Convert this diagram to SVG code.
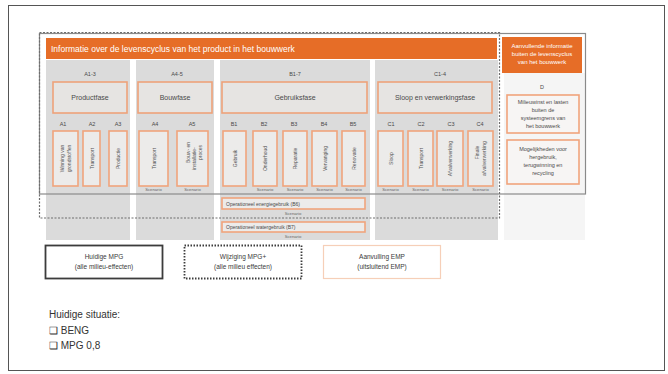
<svg xmlns="http://www.w3.org/2000/svg" width="668" height="374" viewBox="0 0 668 374">
  <defs>
    <style>
      text { font-family: "Liberation Sans", Arial, sans-serif; fill: #4a4a4a; }
      .col { fill: #dbdbdb; }
      .hdr { fill: #e66d27; }
      .hdrtxt { fill: #ffffff; font-size: 8.5px; }
      .hdrsm { fill: #ffffff; font-size: 6px; text-anchor: middle; }
      .phase { fill: #e6e4e2; stroke: #eea27a; stroke-width: 1.6; }
      .phasetxt { font-size: 7px; text-anchor: middle; }
      .code { font-size: 5.5px; text-anchor: middle; }
      .mod { fill: #ecebea; stroke: #f0a47c; stroke-width: 1.6; }
      .vtxt { font-size: 5px; text-anchor: middle; dominant-baseline: central; fill: #555555; }
      .scen { font-size: 4.2px; text-anchor: middle; fill: #666666; }
      .dbox { fill: #f7f5f4; stroke: #f0a47c; stroke-width: 1.6; }
      .dtxt { font-size: 5.5px; text-anchor: middle; }
      .legtxt { font-size: 6.5px; text-anchor: middle; fill: #3a3a3a; }
      .bottom { font-size: 10px; fill: #333333; }
    </style>
  </defs>

  <rect x="0" y="0" width="668" height="374" fill="#ffffff"/>
  <!-- page frame -->
  <rect x="8.5" y="5.5" width="656" height="365" fill="none" stroke="#555555" stroke-width="1"/>

  <!-- phase column backgrounds -->
  <g id="columns">
    <rect class="col" x="46" y="60" width="84" height="180"/>
    <rect class="col" x="136" y="60" width="78" height="180"/>
    <rect class="col" x="220" y="60" width="150" height="180"/>
    <rect class="col" x="375" y="60" width="123" height="180"/>
    <rect x="504" y="73" width="81" height="167" fill="#f5f5f5"/>
  </g>

  <!-- lifecycle header -->
  <g id="header-lifecycle">
    <rect class="hdr" x="46" y="38" width="451" height="21"/>
    <text class="hdrtxt" x="51" y="51.5">Informatie over de levenscyclus van het product in het bouwwerk</text>
  </g>
  <g id="header-extra">
    <rect class="hdr" x="502" y="37" width="80" height="36"/>
    <text class="hdrsm" x="542" y="48">Aanvullende informatie</text>
    <text class="hdrsm" x="542" y="56">buiten de levenscyclus</text>
    <text class="hdrsm" x="542" y="64">van het bouwwerk</text>
  </g>

  <!-- phase groups -->
  <g id="phase-a13">
    <text class="code" x="90" y="76">A1-3</text>
    <rect class="phase" x="53" y="82" width="74" height="31"/>
    <text class="phasetxt" x="90" y="100">Productfase</text>
  </g>
  <g id="phase-a45">
    <text class="code" x="177" y="76">A4-5</text>
    <rect class="phase" x="138" y="82" width="74" height="31"/>
    <text class="phasetxt" x="175" y="100">Bouwfase</text>
  </g>
  <g id="phase-b17">
    <text class="code" x="295" y="76">B1-7</text>
    <rect class="phase" x="222" y="82" width="145" height="31"/>
    <text class="phasetxt" x="295" y="100">Gebruiksfase</text>
  </g>
  <g id="phase-c14">
    <text class="code" x="440" y="76">C1-4</text>
    <rect class="phase" x="378" y="82" width="114" height="31"/>
    <text class="phasetxt" x="435" y="100">Sloop en verwerkingsfase</text>
  </g>

  <!-- modules -->
  <g id="mod-a1">
    <text class="code" x="63" y="126">A1</text>
    <rect class="mod" x="53" y="131" width="25" height="55"/>
    <g transform="translate(65.5,158.5) rotate(-90)">
      <text class="vtxt" x="0" y="-3.5">Winning van</text>
      <text class="vtxt" x="0" y="3.5">grondstoffen</text>
    </g>
  </g>
  <g id="mod-a2">
    <text class="code" x="92" y="126">A2</text>
    <rect class="mod" x="83" y="131" width="17" height="55"/>
    <text class="vtxt" transform="translate(91.5,158.5) rotate(-90)">Transport</text>
  </g>
  <g id="mod-a3">
    <text class="code" x="118" y="126">A3</text>
    <rect class="mod" x="109" y="131" width="18" height="55"/>
    <text class="vtxt" transform="translate(118,158.5) rotate(-90)">Productie</text>
  </g>
  <g id="mod-a4">
    <text class="code" x="155" y="126">A4</text>
    <rect class="mod" x="139" y="131" width="29" height="55"/>
    <text class="vtxt" transform="translate(153.5,158.5) rotate(-90)">Transport</text>
    <text class="scen" x="153.5" y="191">Scenario</text>
  </g>
  <g id="mod-a5">
    <text class="code" x="192" y="126">A5</text>
    <rect class="mod" x="177" y="131" width="31" height="55"/>
    <g transform="translate(192.5,158.5) rotate(-90)">
      <text class="vtxt" x="6" y="-5">Bouw- en</text>
      <text class="vtxt" x="0" y="1">installatie-</text>
      <text class="vtxt" x="6" y="7">proces</text>
    </g>
    <text class="scen" x="192.5" y="191">Scenario</text>
  </g>
  <g id="mod-b1">
    <text class="code" x="234" y="126">B1</text>
    <rect class="mod" x="223" y="131" width="23" height="55"/>
    <text class="vtxt" transform="translate(234.5,158.5) rotate(-90)">Gebruik</text>
  </g>
  <g id="mod-b2">
    <text class="code" x="264" y="126">B2</text>
    <rect class="mod" x="253" y="131" width="24" height="55"/>
    <text class="vtxt" transform="translate(265,158.5) rotate(-90)">Onderhoud</text>
    <text class="scen" x="265" y="191">Scenario</text>
  </g>
  <g id="mod-b3">
    <text class="code" x="294" y="126">B3</text>
    <rect class="mod" x="283" y="131" width="24" height="55"/>
    <text class="vtxt" transform="translate(295,158.5) rotate(-90)">Reparatie</text>
    <text class="scen" x="295" y="191">Scenario</text>
  </g>
  <g id="mod-b4">
    <text class="code" x="324" y="126">B4</text>
    <rect class="mod" x="312" y="131" width="25" height="55"/>
    <text class="vtxt" transform="translate(324.5,158.5) rotate(-90)">Vervanging</text>
    <text class="scen" x="324.5" y="191">Scenario</text>
  </g>
  <g id="mod-b5">
    <text class="code" x="353" y="126">B5</text>
    <rect class="mod" x="342" y="131" width="23" height="55"/>
    <text class="vtxt" transform="translate(353.5,158.5) rotate(-90)">Renovatie</text>
    <text class="scen" x="353.5" y="191">Scenario</text>
  </g>
  <g id="mod-c1">
    <text class="code" x="391" y="126">C1</text>
    <rect class="mod" x="378" y="131" width="25" height="55"/>
    <text class="vtxt" transform="translate(390.5,158.5) rotate(-90)">Sloop</text>
    <text class="scen" x="390.5" y="191">Scenario</text>
  </g>
  <g id="mod-c2">
    <text class="code" x="421" y="126">C2</text>
    <rect class="mod" x="408" y="131" width="25" height="55"/>
    <text class="vtxt" transform="translate(420.5,158.5) rotate(-90)">Transport</text>
    <text class="scen" x="420.5" y="191">Scenario</text>
  </g>
  <g id="mod-c3">
    <text class="code" x="451" y="126">C3</text>
    <rect class="mod" x="437" y="131" width="26" height="55"/>
    <text class="vtxt" transform="translate(450,158.5) rotate(-90)">Afvalverwerking</text>
    <text class="scen" x="450" y="191">Scenario</text>
  </g>
  <g id="mod-c4">
    <text class="code" x="480" y="126">C4</text>
    <rect class="mod" x="468" y="131" width="25" height="55"/>
    <g transform="translate(480.5,158.5) rotate(-90)">
      <text class="vtxt" x="6" y="-3.5">Finale</text>
      <text class="vtxt" x="0" y="3.5">afvalverwerking</text>
    </g>
    <text class="scen" x="480.5" y="191">Scenario</text>
  </g>

  <!-- operational use rows -->
  <g id="mod-b6">
    <rect class="mod" x="222" y="198" width="143" height="11"/>
    <text x="226" y="205.5" font-size="5px">Operationeel energiegebruik (B6)</text>
    <text class="scen" x="293" y="215">Scenario</text>
  </g>
  <g id="mod-b7">
    <rect class="mod" x="222" y="222" width="143" height="10"/>
    <text x="226" y="229" font-size="5px">Operationeel watergebruik (B7)</text>
    <text class="scen" x="293" y="237.5">Scenario</text>
  </g>

  <!-- module D -->
  <g id="mod-d">
    <text class="code" x="542" y="89">D</text>
    <rect class="dbox" x="507" y="95" width="72" height="38"/>
    <text class="dtxt" x="543" y="104">Milieuwinst en lasten</text>
    <text class="dtxt" x="543" y="112">buiten de</text>
    <text class="dtxt" x="543" y="120">systeemgrens van</text>
    <text class="dtxt" x="543" y="128">het bouwwerk</text>
    <rect class="dbox" x="507" y="140" width="72" height="44"/>
    <text class="dtxt" x="543" y="151">Mogelijkheden voor</text>
    <text class="dtxt" x="543" y="159">hergebruik,</text>
    <text class="dtxt" x="543" y="167">terugwinning en</text>
    <text class="dtxt" x="543" y="175">recycling</text>
  </g>

  <!-- scope outlines -->
  <g id="scope-outlines" fill="none">
    <rect x="39.5" y="33.5" width="546" height="160.5" stroke="#8a8a8a" stroke-width="1.2"/>
    <rect x="39.5" y="32.5" width="460" height="185.5" stroke="#6e6e6e" stroke-width="1.2" stroke-dasharray="2 1.5"/>
  </g>

  <!-- legend -->
  <g id="legend-current">
    <rect x="45.5" y="245.5" width="117" height="33" fill="#ffffff" stroke="#3c3c3c" stroke-width="1.8"/>
    <text class="legtxt" x="104" y="259">Huidige MPG</text>
    <text class="legtxt" x="104" y="269">(alle milieu-effecten)</text>
  </g>
  <g id="legend-extended">
    <rect x="184.5" y="245.5" width="117" height="33" fill="#ffffff" stroke="#3c3c3c" stroke-width="1.8" stroke-dasharray="1.5 1.5"/>
    <text class="legtxt" x="243" y="259">Wijziging MPG+</text>
    <text class="legtxt" x="243" y="269">(alle milieu effecten)</text>
  </g>
  <g id="legend-additional">
    <rect x="323.5" y="245.5" width="117" height="33" fill="#ffffff" stroke="#f6cfb8" stroke-width="1.2"/>
    <text class="legtxt" x="382" y="259">Aanvulling EMP</text>
    <text class="legtxt" x="382" y="269">(uitsluitend EMP)</text>
  </g>

  <!-- current situation list -->
  <g id="current-situation">
    <text class="bottom" x="49" y="318">Huidige situatie:</text>
    <text class="bottom" x="49" y="334">❑ BENG</text>
    <text class="bottom" x="49" y="349">❑ MPG 0,8</text>
  </g>
</svg>
